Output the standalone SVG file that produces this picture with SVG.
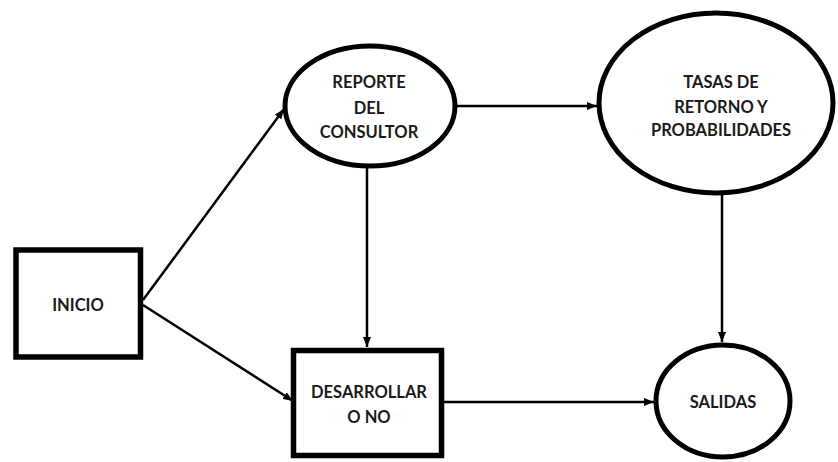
<svg xmlns="http://www.w3.org/2000/svg" width="838" height="462" viewBox="0 0 838 462">
  <style>
    .box { fill: #fff; stroke: #000; stroke-width: 5.5; }
    .oval { fill: #fff; stroke: #000; stroke-width: 5; }
    .lbl { font-family: Lato, "Open Sans", "Liberation Sans", sans-serif; font-weight: 700; font-size: 16.5px; fill: #1a1a1a; text-anchor: middle; }
    .edge { stroke: #000; stroke-width: 2.5; fill: none; marker-end: url(#arrow); }
  </style>
  <defs>
    <marker id="arrow" viewBox="0 0 10 8" refX="10" refY="4" markerWidth="10" markerHeight="8" markerUnits="userSpaceOnUse" orient="auto">
      <path d="M0,0 L10,4 L0,8 Z" fill="#000"/>
    </marker>
  </defs>
  <rect width="838" height="462" fill="#fff"/>

  <g id="connectors">
    <line class="edge" x1="143" y1="300" x2="284" y2="109"/>
    <line class="edge" x1="143" y1="305" x2="293" y2="401"/>
    <line class="edge" x1="367" y1="166" x2="367" y2="347"/>
    <line class="edge" x1="456" y1="106" x2="597" y2="106"/>
    <line class="edge" x1="722" y1="192" x2="722" y2="342"/>
    <line class="edge" x1="444" y1="402" x2="654" y2="402"/>
  </g>

  <g id="inicio">
    <rect class="box" x="16" y="250" width="124.5" height="107"/>
    <text class="lbl" x="78" y="311">INICIO</text>
  </g>

  <g id="reporte">
    <ellipse class="oval" cx="370" cy="106" rx="85" ry="60"/>
    <text class="lbl" x="369" y="88">REPORTE</text>
    <text class="lbl" x="369" y="114">DEL</text>
    <text class="lbl" x="369" y="138">CONSULTOR</text>
  </g>

  <g id="tasas">
    <ellipse class="oval" cx="716" cy="103" rx="117" ry="90"/>
    <text class="lbl" x="721" y="88">TASAS DE</text>
    <text class="lbl" x="721" y="113">RETORNO Y</text>
    <text class="lbl" x="721" y="136">PROBABILIDADES</text>
  </g>

  <g id="desarrollar">
    <rect class="box" x="293.5" y="350.5" width="148" height="105"/>
    <text class="lbl" x="369" y="398">DESARROLLAR</text>
    <text class="lbl" x="369" y="423">O NO</text>
  </g>

  <g id="salidas">
    <ellipse class="oval" cx="723" cy="401" rx="67" ry="56"/>
    <text class="lbl" x="723" y="408">SALIDAS</text>
  </g>
</svg>
